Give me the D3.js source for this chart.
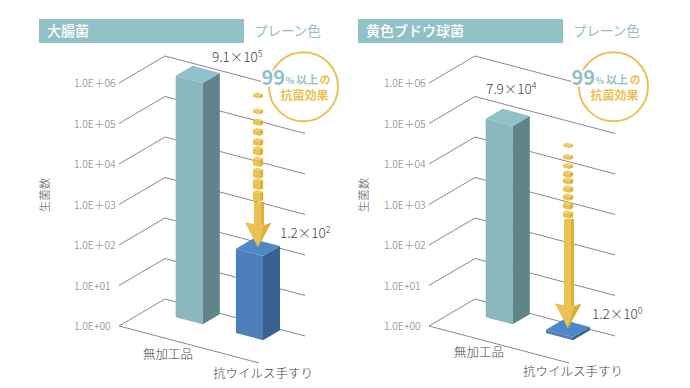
<!DOCTYPE html>
<html>
<head>
<meta charset="utf-8">
<script src="https://cdn.jsdelivr.net/npm/d3@7"></script>
<style>
  body { margin: 0; background: #fff; }
  text { font-family: "Noto Sans CJK JP", "Noto Sans", sans-serif; font-weight: 300; }
</style>
</head>
<body>
<script>
const categories = ['無加工品', '抗ウイルス手すり'];
const tickValues = [1, 10, 100, 1000, 10000, 100000, 1000000];
const tickLabels = ['1.0E+00', '1.0E+01', '1.0E＋02', '1.0E＋03', '1.0E＋04', '1.0E＋05', '1.0E＋06'];
const axisTitle = '生菌数';
const coatLabel = 'プレーン色';

const coliValues = [9.1e5, 1.2e2];
const staphValues = [7.9e4, 1.2e0];

// small blocks above the arrows, in decades: centre and thickness
const coliBlocks = [5.83, 5.44, 5.17, 4.93, 4.68, 4.46, 4.19, 3.91, 3.64, 3.35];
const coliBlockSpan = [0.15, 0.15, 0.18, 0.2, 0.2, 0.23, 0.25, 0.27, 0.29, 0.29];
const coliStemTop = 3.2;
const staphBlocks = [4.6, 4.31, 4.09, 3.89, 3.72, 3.52, 3.32, 3.11, 2.89];
const staphBlockSpan = [0.13, 0.15, 0.15, 0.18, 0.18, 0.18, 0.18, 0.2, 0.2];
const staphStemTop = 2.78;

const svg = d3.select('body').append('svg')
  .attr('width', 690).attr('height', 388).attr('viewBox', [0, 0, 690, 388]);

const teal = { front: '#8AB8BE', side: '#5F858A', top: '#8FC1C8' };
const blue = { front: '#4D80BA', side: '#386391', top: '#4F88C6' };
const yellow = '#EAC253', yellowDark = '#DFB030', yellowTop = '#F0CC66';
const headTeal = '#90C1C7';

// oblique floor: u runs along the front edge, v runs to the back
const y = d3.scaleLog().domain([1, 1e6]).range([326, 83]);
const u = d3.scaleBand().domain(categories).range([28.7, 116]).paddingInner(0.55);
const floorLength = 140, floorDepth = 46, barV0 = 28, barV1 = 45;
const line = d3.line();

function panel(opt) {
  const g = svg.append('g').attr('transform', `translate(${opt.dx},0)`);
  const x0 = 119;
  const project = (a, b, val) => [x0 + a + b, y(val) + a * 0.264 - b * 0.587];
  const tip = (v) => Math.pow(10, v);

  // grid walls
  g.selectAll('.grid').data(tickValues).join('path')
    .attr('class', 'grid')
    .attr('fill', 'none').attr('stroke', '#8a8a8a').attr('stroke-width', 1)
    .attr('d', d => line([project(0, 0, d), project(0, floorDepth, d), project(floorLength, floorDepth, d)]));
  g.append('path')
    .attr('fill', 'none').attr('stroke', '#8a8a8a')
    .attr('d', line([project(0, 0, 1), project(floorLength, 0, 1)]));

  g.selectAll('.tick').data(tickValues).join('text')
    .attr('class', 'tick')
    .attr('x', 74).attr('y', d => y(d) + 4)
    .attr('font-size', 10.5).attr('fill', '#777')
    .text((d, i) => tickLabels[i]);

  // bars
  opt.values.forEach((v, i) => {
    const c = categories[i], a0 = u(c), a1 = a0 + u.bandwidth();
    const col = i === 0 ? teal : blue;
    const bar = g.append('g');
    bar.append('path').attr('fill', col.front).attr('d', line([
      project(a0, barV0, 1), project(a1, barV0, 1), project(a1, barV0, v), project(a0, barV0, v)]) + 'Z');
    bar.append('path').attr('fill', col.side).attr('d', line([
      project(a1, barV0, 1), project(a1, barV1, 1), project(a1, barV1, v), project(a1, barV0, v)]) + 'Z');
    bar.append('path').attr('fill', col.top).attr('d', line([
      project(a0, barV0, v), project(a1, barV0, v), project(a1, barV1, v), project(a0, barV1, v)]) + 'Z');
  });

  // arrow from the untreated level to the treated bar
  const c = categories[1];
  const mid = u(c) + u.bandwidth() / 2, midV = (barV0 + barV1) / 2;
  const ax = project(mid, midV, 1)[0];
  const ay = (d) => project(mid, midV, tip(d))[1];
  const tipY = project(mid, midV, opt.values[1])[1];
  const arrow = g.append('g');

  opt.blocks.forEach((d, i) => {
    const top = ay(d + opt.spans[i] / 2), bot = ay(d - opt.spans[i] / 2);
    const b = arrow.append('g');
    b.append('path').attr('fill', yellow).attr('d', line([
      [ax - 5, top + 1.5], [ax + 1.5, top + 3.2], [ax + 1.5, bot], [ax - 5, bot - 1.7]]) + 'Z');
    b.append('path').attr('fill', yellowDark).attr('d', line([
      [ax + 1.5, top + 3.2], [ax + 5.2, top + 1.5], [ax + 5.2, bot - 1.7], [ax + 1.5, bot]]) + 'Z');
    b.append('path').attr('fill', yellowTop).attr('d', line([
      [ax - 5, top + 1.5], [ax - 1.5, top], [ax + 5.2, top + 1.5], [ax + 1.5, top + 3.2]]) + 'Z');
  });

  const stemTop = ay(opt.stemTop), headTop = tipY - 25;
  arrow.append('rect').attr('x', ax - 4).attr('y', stemTop).attr('width', 6.5)
    .attr('height', headTop - stemTop + 3).attr('fill', yellow);
  arrow.append('rect').attr('x', ax + 2.5).attr('y', stemTop).attr('width', 3.5)
    .attr('height', headTop - stemTop + 3).attr('fill', yellowDark);
  arrow.append('path').attr('fill', yellow).attr('d', line([
    [ax - 13, headTop], [ax + 5, headTop + 3], [ax, tipY]]) + 'Z');
  arrow.append('path').attr('fill', yellowDark).attr('d', line([
    [ax + 5, headTop + 3], [ax + 13.5, headTop], [ax, tipY]]) + 'Z');

  // value labels
  opt.values.forEach((v, i) => {
    const [m, e] = v.toExponential(1).split('e');
    const t = g.append('text')
      .attr('x', opt.labels[i][0]).attr('y', opt.labels[i][1])
      .attr('font-size', 13.5).attr('fill', '#444');
    t.append('tspan').text(m + '×10');
    t.append('tspan').attr('dy', -5).attr('font-size', 9).text(+e);
  });

  // category labels
  categories.forEach((c, i) => {
    g.append('text').attr('x', opt.cats[i][0]).attr('y', opt.cats[i][1])
      .attr('font-size', 12.5).attr('fill', '#444').text(c);
  });

  // 99% badge
  const badge = g.append('g').attr('transform', 'translate(303.5,86.7)');
  badge.append('circle').attr('r', 34.5).attr('fill', '#fff')
    .attr('stroke', yellow).attr('stroke-width', 2);
  badge.append('text').attr('x', -42).attr('y', -2).attr('font-size', 20)
    .style('font-weight', 700).attr('fill', headTeal)
    .attr('stroke', '#fff').attr('stroke-width', 4).attr('paint-order', 'stroke').text('99');
  badge.append('text').attr('x', -18).attr('y', -3).attr('font-size', 9)
    .style('font-weight', 700).attr('fill', headTeal).text('%');
  badge.append('text').attr('x', -7.5).attr('y', -3).attr('font-size', 11)
    .style('font-weight', 700).attr('fill', headTeal).text('以上');
  badge.append('text').attr('x', 16).attr('y', -3).attr('font-size', 11)
    .style('font-weight', 700).attr('fill', yellow).text('の');
  badge.append('text').attr('x', -23).attr('y', 13.5).attr('font-size', 12)
    .style('font-weight', 700).attr('fill', yellow).text('抗菌効果');
}

function header(x, title) {
  svg.append('rect').attr('x', x).attr('y', 19).attr('width', 205).attr('height', 24).attr('fill', headTeal);
  svg.append('text').attr('x', x + 8).attr('y', 36).attr('font-size', 14)
    .style('font-weight', 500).attr('fill', '#fff').text(title);
  svg.append('text').attr('x', x + 215).attr('y', 36).attr('font-size', 13.5)
    .style('font-weight', 400).attr('fill', headTeal).text(coatLabel);
  svg.append('text').attr('transform', `translate(${x + 10},195) rotate(-90)`)
    .attr('text-anchor', 'middle').attr('font-size', 11.5).attr('fill', '#555').text(axisTitle);
}

header(39, '大腸菌');
header(358, '黄色ブドウ球菌');

panel({ dx: 0, values: coliValues, blocks: coliBlocks, spans: coliBlockSpan, stemTop: coliStemTop,
  labels: [[212, 62], [280, 238]], cats: [[143, 359], [213, 378]] });
panel({ dx: 310, values: staphValues, blocks: staphBlocks, spans: staphBlockSpan, stemTop: staphStemTop,
  labels: [[176, 94], [282, 319]], cats: [[144, 357], [213, 376]] });
</script>
</body>
</html>
